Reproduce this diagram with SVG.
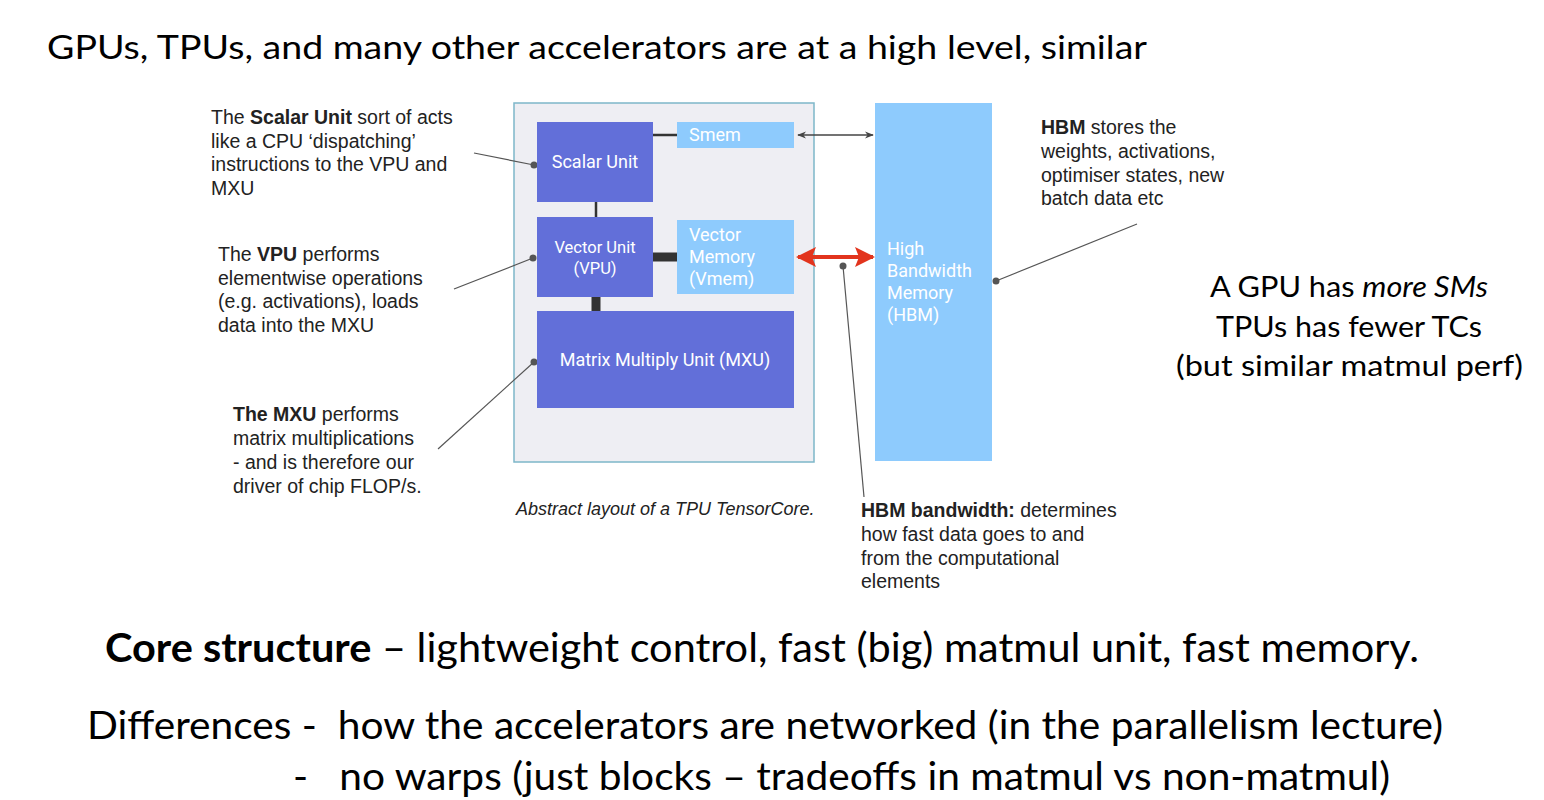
<svg xmlns="http://www.w3.org/2000/svg" width="1544" height="800" viewBox="0 0 1544 800">
<defs>
<style>
.big{font-family:Lato,"Open Sans",sans-serif;fill:#000;white-space:pre}
.ann{font-family:"Liberation Sans",Arial,sans-serif;font-size:19.5px;fill:#222}
.cap{font-family:"Liberation Sans",Arial,sans-serif;font-size:18px;font-style:italic;fill:#222}
.lbl{font-family:Roboto,"Liberation Sans",sans-serif;font-size:18px;fill:#fff}
.lbl-s{font-family:Roboto,"Liberation Sans",sans-serif;font-size:16.5px;fill:#fff}
.dark{fill:#626fd9}
.light{fill:#8ecbfd}
.lead{stroke:#555;stroke-width:1.2;fill:none}
.dot{fill:#555}
</style>
<marker id="ah" viewBox="0 0 10 10" refX="9" refY="5" markerWidth="9" markerHeight="9" orient="auto-start-reverse" markerUnits="userSpaceOnUse">
<path d="M0,1 L10,5 L0,9 L3,5 Z" fill="#444"/>
</marker>
<marker id="ahr" viewBox="0 0 10 10" refX="9" refY="5" markerWidth="24" markerHeight="20" orient="auto-start-reverse" markerUnits="userSpaceOnUse">
<path d="M0,0 L10,5 L0,10 L2,5 Z" fill="#e2341d"/>
</marker>
</defs>
<rect width="1544" height="800" fill="#fff"/>
<text class="big" x="47" y="59" font-size="33" textLength="1100" lengthAdjust="spacingAndGlyphs">GPUs, TPUs, and many other accelerators are at a high level, similar</text>

<g id="tensorcore">
<rect x="514" y="103" width="300" height="359" fill="#eeeef3" stroke="#7db7c9" stroke-width="1.5"/>
</g>
<g id="connectors">
<line x1="653" y1="135" x2="677" y2="135" stroke="#333" stroke-width="2.5"/>
<line x1="596" y1="202" x2="596" y2="217" stroke="#333" stroke-width="2.5"/>
<line x1="653" y1="257" x2="677" y2="257" stroke="#333" stroke-width="9"/>
<line x1="596" y1="297" x2="596" y2="311" stroke="#333" stroke-width="9"/>
<line x1="798" y1="135" x2="873" y2="135" stroke="#444" stroke-width="1.5" marker-start="url(#ah)" marker-end="url(#ah)"/>
<line x1="798" y1="257" x2="873" y2="257" stroke="#e2341d" stroke-width="4" marker-start="url(#ahr)" marker-end="url(#ahr)"/>
<line class="lead" x1="474" y1="153" x2="534" y2="165"/>
<circle class="dot" cx="534" cy="165" r="3.5"/>
<line class="lead" x1="454" y1="289" x2="533" y2="258"/>
<circle class="dot" cx="533" cy="258" r="3.5"/>
<line class="lead" x1="438" y1="449" x2="534" y2="362"/>
<circle class="dot" cx="534" cy="362" r="3.5"/>
<line class="lead" x1="1137" y1="224" x2="996" y2="281"/>
<circle class="dot" cx="996" cy="281" r="3.5"/>
<line class="lead" x1="843" y1="266" x2="864" y2="497"/>
<circle class="dot" cx="843" cy="266" r="3.5"/>
</g>
<g id="scalar">
<rect class="dark" x="537" y="122" width="116" height="80"/>
<text class="lbl" x="595" y="168" text-anchor="middle">Scalar Unit</text>
</g>
<g id="smem">
<rect class="light" x="677" y="122" width="117" height="26"/>
<text class="lbl" x="689" y="141">Smem</text>
</g>
<g id="vpu">
<rect class="dark" x="537" y="217" width="116" height="80"/>
<text class="lbl-s" x="595" y="253" text-anchor="middle">Vector Unit</text>
<text class="lbl-s" x="595" y="274" text-anchor="middle">(VPU)</text>
</g>
<g id="vmem">
<rect class="light" x="677" y="220" width="117" height="74"/>
<text class="lbl" x="689" y="241">Vector</text>
<text class="lbl" x="689" y="263">Memory</text>
<text class="lbl" x="689" y="285">(Vmem)</text>
</g>
<g id="mxu">
<rect class="dark" x="537" y="311" width="257" height="97"/>
<text class="lbl" x="665" y="366" text-anchor="middle">Matrix Multiply Unit (MXU)</text>
</g>
<g id="hbm">
<rect class="light" x="875" y="103" width="117" height="358"/>
<text class="lbl" x="887" y="255">High</text>
<text class="lbl" x="887" y="277">Bandwidth</text>
<text class="lbl" x="887" y="299">Memory</text>
<text class="lbl" x="887" y="321">(HBM)</text>
</g>

<g id="ann-scalar">
<text class="ann" x="211" y="124">The <tspan font-weight="bold">Scalar Unit</tspan> sort of acts</text>
<text class="ann" x="211" y="148">like a CPU ‘dispatching’</text>
<text class="ann" x="211" y="171">instructions to the VPU and</text>
<text class="ann" x="211" y="195">MXU</text>
</g>
<g id="ann-vpu">
<text class="ann" x="218" y="261">The <tspan font-weight="bold">VPU</tspan> performs</text>
<text class="ann" x="218" y="285">elementwise operations</text>
<text class="ann" x="218" y="308">(e.g. activations), loads</text>
<text class="ann" x="218" y="332">data into the MXU</text>
</g>
<g id="ann-mxu">
<text class="ann" x="233" y="421"><tspan font-weight="bold">The MXU</tspan> performs</text>
<text class="ann" x="233" y="445">matrix multiplications</text>
<text class="ann" x="233" y="469">- and is therefore our</text>
<text class="ann" x="233" y="493">driver of chip FLOP/s.</text>
</g>
<g id="ann-hbm">
<text class="ann" x="1041" y="134"><tspan font-weight="bold">HBM</tspan> stores the</text>
<text class="ann" x="1041" y="158">weights, activations,</text>
<text class="ann" x="1041" y="182">optimiser states, new</text>
<text class="ann" x="1041" y="205">batch data etc</text>
</g>
<g id="ann-bw">
<text class="ann" x="861" y="517"><tspan font-weight="bold">HBM bandwidth:</tspan> determines</text>
<text class="ann" x="861" y="541">how fast data goes to and</text>
<text class="ann" x="861" y="565">from the computational</text>
<text class="ann" x="861" y="588">elements</text>
</g>
<text class="cap" x="516" y="515">Abstract layout of a TPU TensorCore.</text>

<g id="side-note">
<text class="big" x="1210" y="297" font-size="29" textLength="278" lengthAdjust="spacingAndGlyphs">A GPU has <tspan font-style="italic">more SMs</tspan></text>
<text class="big" x="1216" y="337" font-size="29" textLength="266" lengthAdjust="spacingAndGlyphs">TPUs has fewer TCs</text>
<text class="big" x="1176" y="376" font-size="29" textLength="347" lengthAdjust="spacingAndGlyphs">(but similar matmul perf)</text>
</g>
<text class="big" x="105" y="662" font-size="40" textLength="1314" lengthAdjust="spacingAndGlyphs"><tspan font-weight="bold">Core structure</tspan> – lightweight control, fast (big) matmul unit, fast memory.</text>
<text class="big" x="87" y="739" font-size="38" textLength="1356" lengthAdjust="spacingAndGlyphs">Differences -  how the accelerators are networked (in the parallelism lecture)</text>
<text class="big" x="293" y="790" font-size="38" textLength="1097" lengthAdjust="spacingAndGlyphs">-   no warps (just blocks – tradeoffs in matmul vs non-matmul)</text>
</svg>
